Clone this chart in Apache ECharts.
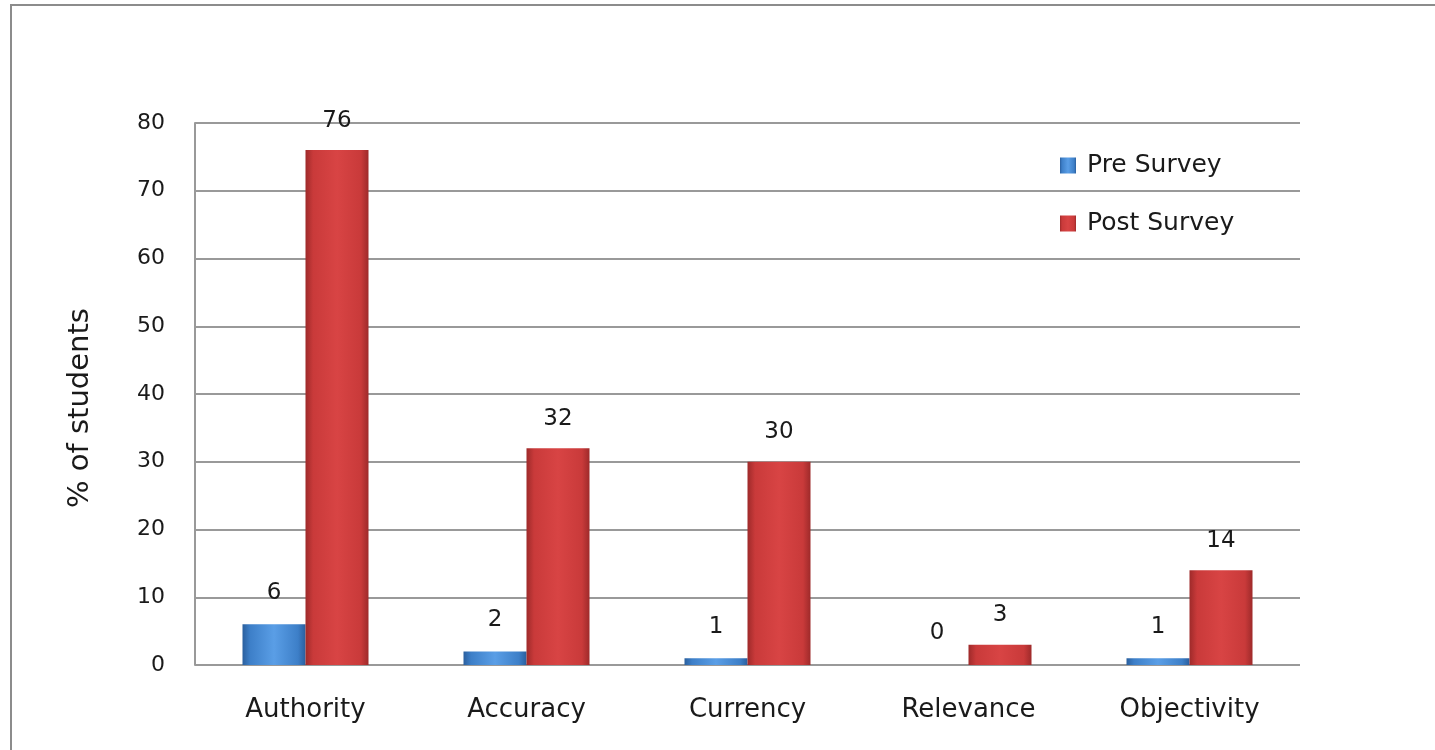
<!DOCTYPE html>
<html><head><meta charset="utf-8">
<script src="https://cdn.jsdelivr.net/npm/echarts@6/dist/echarts.min.js"></script>
<style>html,body{margin:0;padding:0;background:#fff}#c{width:1435px;height:750px}</style>
</head><body><div id="c"></div>
<script>
var categories = ['Authority', 'Accuracy', 'Currency', 'Relevance', 'Objectivity'];
var preSurvey = [6, 2, 1, 0, 1];
var postSurvey = [76, 32, 30, 3, 14];
var yTicks = [0, 10, 20, 30, 40, 50, 60, 70, 80];

var FONT = '"DejaVu Sans", sans-serif';
function grad(light, mid, dark) {
  return new echarts.graphic.LinearGradient(0, 0, 1, 0, [
    {offset: 0, color: dark}, {offset: 0.12, color: mid}, {offset: 0.5, color: light},
    {offset: 0.88, color: mid}, {offset: 1, color: dark}
  ]);
}
var chart = echarts.init(document.getElementById('c'));
chart.setOption({
  animation: false,
  graphic: [{type: 'rect', shape: {x: 11, y: 5, width: 1440, height: 760},
    style: {fill: 'none', stroke: '#8c8c8c', lineWidth: 2}, silent: true}],
  grid: {left: 195, right: 135, top: 123, bottom: 85},
  legend: {
    orient: 'vertical', left: 1055, top: 148, itemGap: 33, itemWidth: 16, itemHeight: 16,
    icon: 'rect', textStyle: {fontFamily: FONT, fontSize: 25, color: '#1a1a1a', padding: [0, 0, 0, 6]},
    data: ['Pre Survey', 'Post Survey']
  },
  xAxis: {
    type: 'category', data: categories,
    axisLine: {show: false}, axisTick: {show: false},
    axisLabel: {fontFamily: FONT, fontSize: 26, color: '#1a1a1a', margin: 32}
  },
  yAxis: {
    type: 'value', min: yTicks[0], max: yTicks[yTicks.length - 1], interval: 10,
    name: '% of students', nameLocation: 'middle', nameGap: 100,
    nameTextStyle: {fontFamily: FONT, fontSize: 29, color: '#1a1a1a', padding: [0, 28, 0, 0]},
    axisLine: {show: true, lineStyle: {color: '#999', width: 2}},
    axisTick: {show: false},
    axisLabel: {fontFamily: FONT, fontSize: 22, color: '#1a1a1a', margin: 30},
    splitLine: {lineStyle: {color: '#999', width: 2}}
  },
  series: [{
    name: 'Pre Survey', type: 'bar', data: preSurvey, barWidth: 63, barGap: '0%',
    itemStyle: {color: grad('#5a9ee6', '#3d7fc8', '#2a5f9e')},
    label: {show: true, position: 'top', distance: 20, fontFamily: FONT, fontSize: 23, color: '#1a1a1a'}
  }, {
    name: 'Post Survey', type: 'bar', data: postSurvey, barWidth: 63,
    itemStyle: {color: grad('#d84444', '#c93a3a', '#9e2a2a')},
    label: {show: true, position: 'top', distance: 18, fontFamily: FONT, fontSize: 23, color: '#1a1a1a'}
  }]
});
</script></body></html>
